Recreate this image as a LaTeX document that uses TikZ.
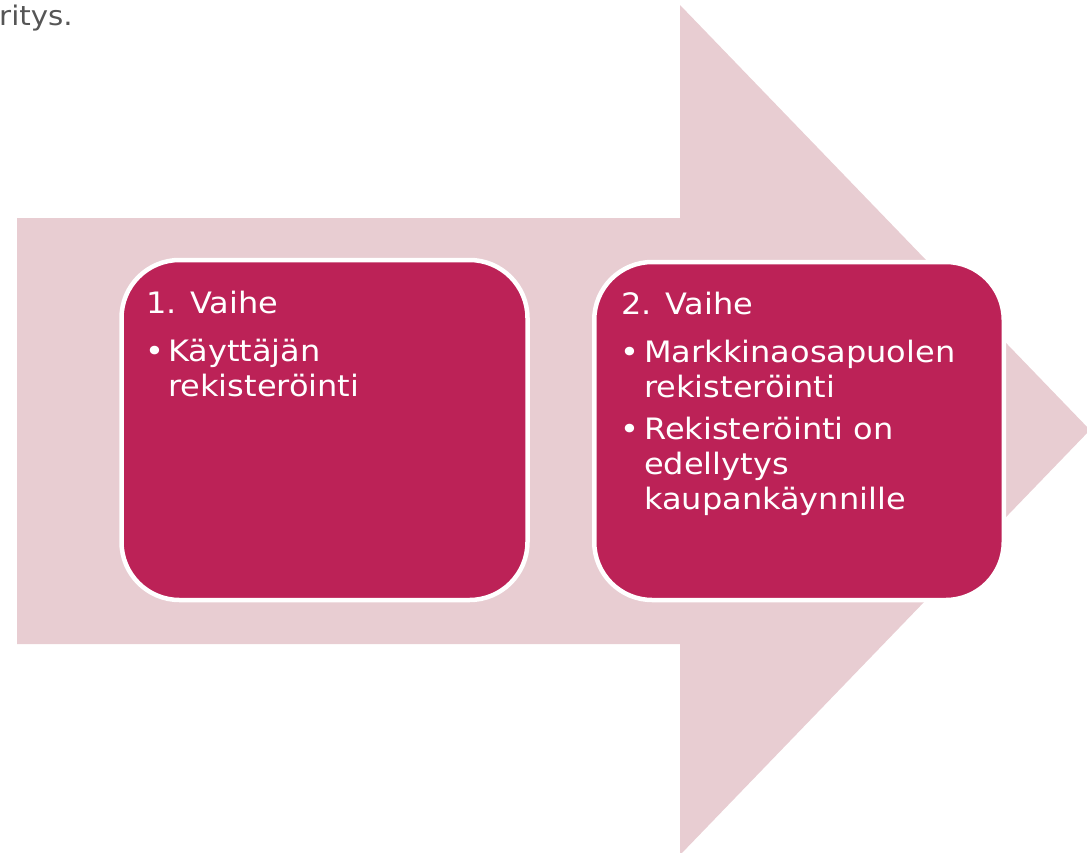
\documentclass[tikz,border=0pt]{standalone}
\usepackage{fontspec}
\setmainfont{DejaVu Sans}
\newfontfamily\verd[FakeStretch=1.085]{DejaVu Sans}
\definecolor{arrowpink}{HTML}{E8CDD2}
\definecolor{boxred}{HTML}{BC2257}
\definecolor{captiongray}{HTML}{555555}
\begin{document}
\begin{tikzpicture}[x=1pt,y=-1pt,
  stepbox/.style={draw=white, line width=4.5pt, fill=boxred, rounded corners=58pt, inner sep=0pt},
  steptext/.style={text=white, font=\verd\fontsize{29.5}{36}\selectfont, inner sep=0pt, anchor=base west},
  bul/.style={text=white, font=\verd\fontsize{29.5}{36}\selectfont, inner sep=0pt, anchor=base west}
]
\useasboundingbox (0,0) rectangle (1087,852);
\clip (0,0) rectangle (1087,852);
% big arrow
\fill[arrowpink] (17,218) -- (680,218) -- (680,5) -- (1090,430) -- (680,855) -- (680,644) -- (17,644) -- cycle;
% caption fragment
\node[text=captiongray, font=\verd\fontsize{27}{32}\selectfont, inner sep=0pt, anchor=base east] (cap) at (73,25) {ritys.};
% boxes
\node[stepbox, minimum width=406pt, minimum height=340pt] (b1) at (324.5,430) {};
\node[stepbox, minimum width=409.5pt, minimum height=338pt] (b2) at (799,431) {};
% box 1 text
\node[steptext] (h1) at (146,313) {1. Vaihe};
\node[bul] (d1) at (145,361) {•};
\node[steptext] (l11) at (168,361) {Käyttäjän};
\node[steptext] (l12) at (168,396) {rekisteröinti};
% box 2 text
\node[steptext] (h2) at (621,314) {2. Vaihe};
\node[bul] (d21) at (620,362) {•};
\node[steptext] (l21) at (644,362) {Markkinaosapuolen};
\node[steptext] (l22) at (644,397) {rekisteröinti};
\node[bul] (d22) at (620,439) {•};
\node[steptext] (l23) at (644,439) {Rekisteröinti on};
\node[steptext] (l24) at (644,474) {edellytys};
\node[steptext] (l25) at (644,509) {kaupankäynnille};
\end{tikzpicture}
\end{document}
